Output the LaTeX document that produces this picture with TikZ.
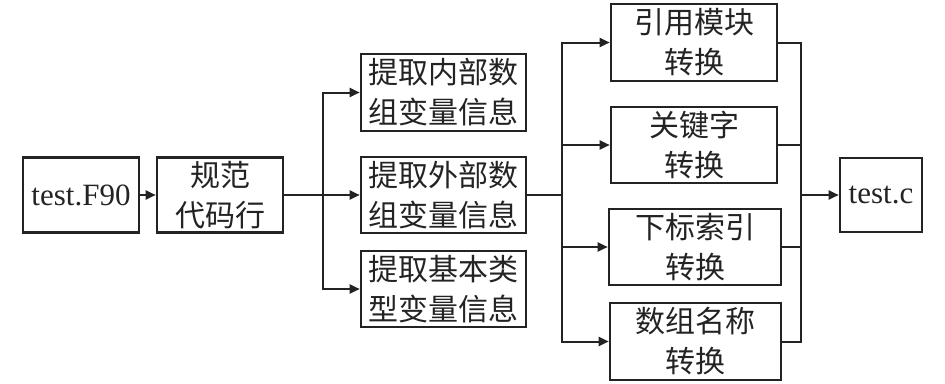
\documentclass[tikz,border=0pt]{standalone}
\usepackage{fontspec}
\setmainfont{Liberation Serif}
\newfontfamily\cjk{Noto Sans CJK SC}
\usetikzlibrary{arrows.meta}
\definecolor{ink}{RGB}{35,35,35}
\begin{document}
\begin{tikzpicture}[x=1pt,y=-1pt,
  box/.style={draw=ink,line width=2.6pt,inner sep=0pt,align=center,text=ink,
    font=\fontsize{30}{40}\selectfont\cjk},
  lat/.style={box,font=\fontsize{31}{40}\selectfont},
  conn/.style={draw=ink,line width=2pt},
  arr/.style={conn,-{Triangle[length=10pt,width=9pt]}}]
\useasboundingbox (0,0) rectangle (945,383);
\node[lat,minimum width=116pt,minimum height=75pt] (f90) at (81,195) {test.F90};
\node[box,minimum width=126pt,minimum height=75pt] (norm) at (220,195) {规范\\代码行};
\node[box,minimum width=165pt,minimum height=77pt] (in) at (443.5,92.5) {提取内部数\\组变量信息};
\node[box,minimum width=165pt,minimum height=76pt] (ex) at (443.5,195) {提取外部数\\组变量信息};
\node[box,minimum width=165pt,minimum height=76pt] (basic) at (443.5,289) {提取基本类\\型变量信息};
\node[box,minimum width=166pt,minimum height=77pt] (ma) at (694,42.5) {引用模块\\转换};
\node[box,minimum width=166pt,minimum height=76pt] (mb) at (694,145) {关键字\\转换};
\node[box,minimum width=172pt,minimum height=76pt] (mc) at (695,247) {下标索引\\转换};
\node[box,minimum width=171pt,minimum height=77pt] (md) at (695.5,341.5) {数组名称\\转换};
\node[lat,minimum width=82pt,minimum height=74pt] (tc) at (881,195) {test.c};
\coordinate (j1) at (323,195);
\coordinate (j2) at (562,195);
\coordinate (j3) at (801,195);
\draw[arr] (f90) -- (norm);
\draw[arr] (norm) -- (ex);
\draw[arr] (j1) |- (in);
\draw[arr] (j1) |- (basic);
\draw[conn] (ex) -- (j2);
\draw[arr] (j2) |- (ma);
\draw[arr] (j2) |- (mb);
\draw[arr] (j2) |- (mc);
\draw[arr] (j2) |- (md);
\draw[conn] (ma) -| (j3);
\draw[conn] (mb) -| (j3);
\draw[conn] (mc) -| (j3);
\draw[conn] (md) -| (j3);
\draw[arr] (j3) -- (tc);
\end{tikzpicture}
\end{document}
